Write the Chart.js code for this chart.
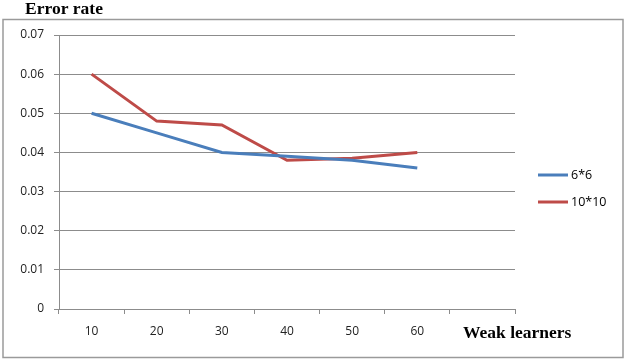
<!DOCTYPE html>
<html>
<head>
<meta charset="utf-8">
<script src="https://cdn.jsdelivr.net/npm/chart.js@4"></script>
<style>
  html, body { margin: 0; padding: 0; background: #fff; }
  #wrap { width: 629px; height: 360px; }
</style>
</head>
<body>
<div id="wrap"><canvas id="errorChart" width="629" height="360"></canvas></div>
<script>
// Datos del gráfico
const weakLearners = ['10', '20', '30', '40', '50', '60', ''];
const rate6x6 = [0.050, 0.045, 0.040, 0.039, 0.038, 0.036];
const rate10x10 = [0.060, 0.048, 0.047, 0.038, 0.0385, 0.040];
const yTicks = [0, 0.01, 0.02, 0.03, 0.04, 0.05, 0.06, 0.07];

const gris = '#8c8c8c';

// Textos extra: marco, título, leyenda y etiqueta del eje X
const textosExtra = {
    id: 'textosExtra',
    afterDraw(chart) {
        const ctx = chart.ctx;
        ctx.save();
        // marco exterior
        ctx.strokeStyle = '#9a9a9a';
        ctx.lineWidth = 1.5;
        ctx.strokeRect(3, 19.5, 620, 338);

        ctx.fillStyle = '#000';
        ctx.font = 'bold 17.5px "Liberation Serif", serif';
        ctx.textBaseline = 'alphabetic';
        ctx.textAlign = 'left';
        ctx.fillText('Error rate', 25, 14);
        ctx.fillText('Weak learners', 463, 338);

        // leyenda
        ctx.font = '12.5px "Open Sans", sans-serif';
        ctx.textBaseline = 'middle';
        const yLeyenda = [175, 202];
        chart.data.datasets.forEach((ds, i) => {
            ctx.strokeStyle = ds.borderColor;
            ctx.lineWidth = 3;
            ctx.beginPath();
            ctx.moveTo(538, yLeyenda[i]);
            ctx.lineTo(568, yLeyenda[i]);
            ctx.stroke();
            ctx.fillStyle = '#000';
            ctx.fillText(ds.label, 571, yLeyenda[i]);
        });
        ctx.restore();
    }
};

const inicializarGrafico = () => {
    const el = document.getElementById('errorChart');
    new Chart(el, {
        type: 'line',
        data: {
            labels: weakLearners,
            datasets: [
                {
                    label: '6*6',
                    data: rate6x6,
                    borderColor: '#4a7ebb',
                    borderWidth: 3,
                    pointRadius: 0,
                    tension: 0,
                    fill: false
                },
                {
                    label: '10*10',
                    data: rate10x10,
                    borderColor: '#be4b48',
                    borderWidth: 3,
                    pointRadius: 0,
                    tension: 0,
                    fill: false
                }
            ]
        },
        options: {
            responsive: false,
            animation: false,
            layout: { padding: { left: 0, top: 35, right: 114, bottom: 0 } },
            plugins: {
                legend: { display: false },
                tooltip: { enabled: false }
            },
            scales: {
                x: {
                    type: 'category',
                    offset: true,
                    grid: {
                        offset: true,
                        drawOnChartArea: false,
                        drawTicks: true,
                        tickLength: 5,
                        color: gris
                    },
                    border: { display: true, color: gris },
                    ticks: {
                        color: '#222',
                        padding: 10,
                        maxRotation: 0,
                        autoSkip: false,
                        font: { family: '"Open Sans", sans-serif', size: 12 }
                    },
                    afterFit: (scale) => { scale.height = 51; }
                },
                y: {
                    min: 0,
                    max: 0.07,
                    afterBuildTicks: (scale) => {
                        scale.ticks = yTicks.map(v => ({ value: v }));
                    },
                    grid: {
                        color: gris,
                        drawTicks: true,
                        tickLength: 5
                    },
                    border: { display: true, color: gris },
                    ticks: {
                        color: '#222',
                        padding: 10,
                        font: { family: '"Open Sans", sans-serif', size: 12 },
                        callback: (v) => v === 0 ? '0' : Number(v).toFixed(2)
                    },
                    afterFit: (scale) => { scale.width = 59; }
                }
            }
        },
        plugins: [textosExtra]
    });
};

inicializarGrafico();
</script>
</body>
</html>
